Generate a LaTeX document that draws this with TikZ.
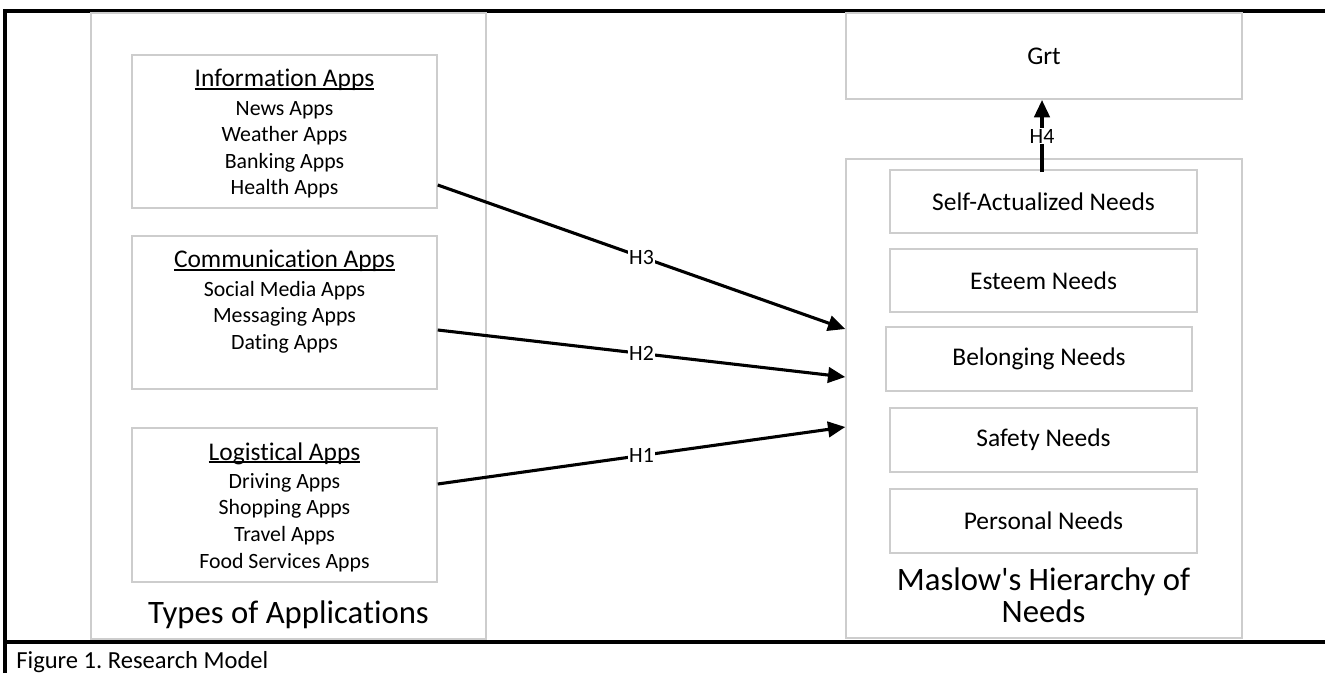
\documentclass[tikz,border=0pt]{standalone}
\usepackage{fontspec}
\setmainfont{Carlito}[Ligatures={NoCommon}]
\usetikzlibrary{arrows.meta,fit}
\definecolor{boxgray}{RGB}{205,205,205}
\newcommand\hdrline[1]{\setbox0\hbox{#1}\rlap{\rule[-1.5pt]{\wd0}{0.75pt}}\box0}
\frenchspacing
\begin{document}
\begin{tikzpicture}[x=0.55pt,y=-0.55pt,
  gbox/.style={draw=boxgray, line width=0.8pt, inner sep=0pt},
  needtxt/.style={inner sep=0pt, font=\fontsize{14}{17}\selectfont},
  apptxt/.style={align=center, inner sep=0pt, anchor=north, font=\fontsize{12}{14.6}\selectfont},
  bigtxt/.style={align=center, inner sep=0pt, font=\fontsize{18}{17.6}\selectfont},
  arr/.style={line width=1.7pt, -{Triangle[length=9.5pt,width=8.5pt]}},
  hlab/.style={fill=white, inner sep=0.6pt, font=\fontsize{12}{14}\selectfont},
  frameline/.style={line width=1.7pt}]
\useasboundingbox (0,0) rectangle (1325,673);
% outer frame
\coordinate (ftl) at (5,11);
\coordinate (ftr) at (1325,11);
\coordinate (fbl) at (5,673);
\coordinate (fml) at (5,642);
\coordinate (fmr) at (1325,642);
\draw[frameline] (fbl) -- (ftl) -- (ftr);
\draw[frameline] (fml) -- (fmr);
% left group
\node[gbox, fit={(91,13)(486,639)}] (types) {};
\node[gbox, fit={(132,55)(437,208)}] (info) {};
\node[gbox, fit={(132,236)(437,389)}] (comm) {};
\node[gbox, fit={(132,428)(437,582)}] (logi) {};
\node[apptxt] (infot) at (284.5,69) {{\fontsize{14}{17}\selectfont\hdrline{Information Apps}}\\[1pt] News Apps\\ Weather Apps\\ Banking Apps\\ Health Apps};
\node[apptxt] (commt) at (284.5,250) {{\fontsize{14}{17}\selectfont\hdrline{Communication Apps}}\\[1pt] Social Media Apps\\ Messaging Apps\\ Dating Apps};
\node[apptxt] (logit) at (284.5,442) {{\fontsize{14}{17}\selectfont\hdrline{Logistical Apps}}\\[1pt] Driving Apps\\ Shopping Apps\\ Travel Apps\\ Food Services Apps};
\node[bigtxt, anchor=base] (typest) at (288.5,623) {Types of Applications};
% right group
\node[gbox, fit={(846,13)(1242,99)}] (grt) {};
\node[needtxt] (grtt) at (grt.center) {Grt};
\node[gbox, fit={(846,159)(1242,638)}] (maslow) {};
\node[gbox, fit={(890,170)(1197,233)}] (self) {};
\node[gbox, fit={(890,249)(1197,312)}] (esteem) {};
\node[gbox, fit={(886,327)(1192,391)}] (belong) {};
\node[gbox, fit={(890,408)(1197,472)}] (safety) {};
\node[gbox, fit={(890,489)(1197,553)}] (personal) {};
\node[needtxt] (selft) at (self.center) {Self-Actualized Needs};
\node[needtxt] (esteemt) at (esteem.center) {Esteem Needs};
\node[needtxt] (belongt) at (belong.center) {Belonging Needs};
\node[needtxt] (safetyt) at (safety.center) {Safety Needs};
\node[needtxt] (personalt) at (personal.center) {Personal Needs};
\node[bigtxt, anchor=north] (maslowt) at (1043.5,567) {Maslow\textquotesingle s Hierarchy of\\ Needs};
% connectors
\coordinate (h3s) at (436,185);
\coordinate (h3e) at (845,329);
\coordinate (h2s) at (436,330);
\coordinate (h2e) at (845,377);
\coordinate (h1s) at (436,484);
\coordinate (h1e) at (845,427);
\draw[arr] (info.east |- h3s) -- node[hlab] (l3) {H3} (maslow.west |- h3e);
\draw[arr] (comm.east |- h2s) -- node[hlab] (l2) {H2} (maslow.west |- h2e);
\draw[arr] (logi.east |- h1s) -- node[hlab] (l1) {H1} (maslow.west |- h1e);
\coordinate (h4s) at (1042,172);
\coordinate (h4e) at (1042,100);
\draw[arr] (h4s) -- node[hlab] (l4) {H4} (h4e);
% caption
\node[anchor=base west, inner sep=0pt, font=\fontsize{13.5}{16}\selectfont] (cap) at (16,668) {Figure 1. Research Model};
\end{tikzpicture}
\end{document}
